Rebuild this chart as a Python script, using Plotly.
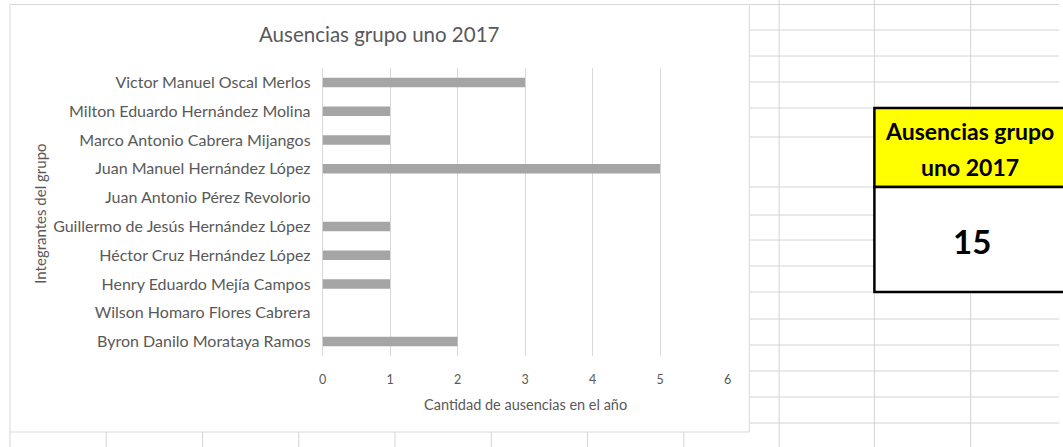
import plotly.graph_objects as go

W, H = 1063, 447

# ---- data ----
integrantes = [
    "Byron Danilo Morataya Ramos",
    "Wilson Homaro Flores Cabrera",
    "Henry Eduardo Mejía Campos",
    "Héctor Cruz Hernández López",
    "Guillermo de Jesús Hernández López",
    "Juan Antonio Pérez Revolorio",
    "Juan Manuel Hernández López",
    "Marco Antonio Cabrera Mijangos",
    "Milton Eduardo Hernández Molina",
    "Victor Manuel Oscal Merlos",
]
ausencias = [2, 0, 1, 1, 1, 0, 5, 1, 1, 3]
x_ticks = [0, 1, 2, 3, 4, 5, 6]
titulo = "Ausencias grupo uno 2017"
x_titulo = "Cantidad de ausencias en el año"
y_titulo = "Integrantes del grupo"
celda_titulo = ["Ausencias grupo", "uno 2017"]
total = sum(ausencias)


def px(x):
    return x / W


def py(y):
    return 1 - y / H


FONT = "Lato, 'Open Sans', sans-serif"
GRID = "#d4d4d4"
TXT = "#595959"

fig = go.Figure(
    go.Bar(
        x=ausencias,
        y=integrantes,
        orientation="h",
        marker=dict(color="#a5a5a5", line=dict(width=0)),
        hoverinfo="x+y",
    )
)

shapes = []


def line(x0, y0, x1, y1, color=GRID, width=1):
    shapes.append(dict(type="line", xref="paper", yref="paper",
                       x0=px(x0), y0=py(y0), x1=px(x1), y1=py(y1),
                       line=dict(color=color, width=width), layer="below"))


# spreadsheet grid (right side)
row_lines = [4.5, 30, 56, 82, 108, 137, 187, 215, 240, 266, 292, 319, 345, 371, 397, 423]
for y in row_lines:
    if 108 <= y <= 292:
        line(751, y, 877, y)
    else:
        line(751, y, W, y)
line(781, 0, 781, H)
line(877, 0, 877, H)
line(974, 0, 974, 108)
line(974, 292, 974, H)
# bottom columns below chart
for x in [6, 103, 200, 297, 394, 491, 588, 685]:
    line(x, 432, x, H)

# chart area
shapes.append(dict(type="rect", xref="paper", yref="paper",
                   x0=px(6), y0=py(432), x1=px(751), y1=py(4.5),
                   fillcolor="white", line=dict(color="#d9d9d9", width=1), layer="below"))

# summary cell box
shapes.append(dict(type="rect", xref="paper", yref="paper",
                   x0=px(877), y0=py(187), x1=px(W + 10), y1=py(108),
                   fillcolor="#ffff00", line=dict(color="black", width=2.5), layer="below"))
shapes.append(dict(type="rect", xref="paper", yref="paper",
                   x0=px(877), y0=py(292), x1=px(W + 10), y1=py(187),
                   fillcolor="white", line=dict(color="black", width=2.5), layer="below"))

annotations = [
    dict(text=titulo, x=px(378.5), y=py(34), xref="paper", yref="paper",
         showarrow=False, font=dict(family=FONT, size=20.5, color=TXT),
         xanchor="center", yanchor="middle"),
    dict(text=x_titulo, x=px(525), y=py(404), xref="paper", yref="paper",
         showarrow=False, font=dict(family=FONT, size=14.5, color=TXT),
         xanchor="center", yanchor="middle"),
    dict(text=y_titulo, x=px(36), y=py(214), xref="paper", yref="paper",
         showarrow=False, textangle=-90, font=dict(family=FONT, size=15, color=TXT),
         xanchor="center", yanchor="middle"),
    dict(text="<b>%s</b>" % celda_titulo[0], x=px(973), y=py(131), xref="paper", yref="paper",
         showarrow=False, font=dict(family=FONT, size=23, color="black"),
         xanchor="center", yanchor="middle"),
    dict(text="<b>%s</b>" % celda_titulo[1], x=px(973), y=py(167), xref="paper", yref="paper",
         showarrow=False, font=dict(family=FONT, size=23, color="black"),
         xanchor="center", yanchor="middle"),
    dict(text="<b>%d</b>" % total, x=px(975), y=py(241), xref="paper", yref="paper",
         showarrow=False, font=dict(family=FONT, size=33, color="black"),
         xanchor="center", yanchor="middle"),
]

fig.update_layout(
    width=W, height=H,
    margin=dict(l=0, r=0, t=0, b=0),
    paper_bgcolor="white",
    plot_bgcolor="rgba(0,0,0,0)",
    showlegend=False,
    bargap=0.67,
    shapes=shapes,
    annotations=annotations,
    xaxis=dict(
        domain=[px(321), px(729)],
        range=[0, 6],
        tickvals=x_ticks,
        showgrid=True, gridcolor="#d9d9d9", gridwidth=1,
        zeroline=True, zerolinecolor="#d9d9d9", zerolinewidth=1,
        showline=False,
        ticks="", ticklabelstandoff=14,
        tickfont=dict(family=FONT, size=12.5, color=TXT),
        fixedrange=True,
    ),
    yaxis=dict(
        domain=[py(356), py(68)],
        type="category",
        categoryorder="array", categoryarray=integrantes,
        showgrid=False, zeroline=False, showline=False,
        ticks="", ticklabelstandoff=11,
        tickfont=dict(family=FONT, size=16, color=TXT),
        fixedrange=True,
    ),
)

fig.write_html(
    "out.html",
    config={"displayModeBar": False},
    post_script="document.body.style.margin='0';document.body.style.overflow='hidden';",
)
